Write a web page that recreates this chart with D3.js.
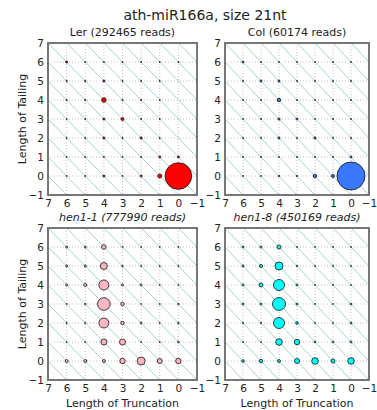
<!DOCTYPE html>
<html>
<head>
<meta charset="utf-8">
<script src="https://cdn.jsdelivr.net/npm/d3@7"></script>
<style>
  body { margin: 0; background: #fff; }
  text { font-family: "DejaVu Sans", sans-serif; fill: #222; }
  .tick text { font-size: 10.5px; }
</style>
</head>
<body>
<div id="chart-container"></div>
<script>
// step 0 the data: percent of reads, rows = tailing 7..0, cols = truncation 7..0
const tailing = [7, 6, 5, 4, 3, 2, 1, 0];
const truncation = [7, 6, 5, 4, 3, 2, 1, 0];
const tickValues = [7, 6, 5, 4, 3, 2, 1, 0, -1];

const ler = [
    [0.2, 0, 0, 0, 0, 0, 0, 0],
    [0, 0.5, 0.15, 0.15, 0.15, 0.15, 0.15, 0.15],
    [0, 0.2, 0.2, 0.5, 0.15, 0.15, 0.15, 0],
    [0, 0.2, 0.2, 2.5, 0.2, 0.2, 0.15, 0],
    [0, 0.15, 0.15, 0.5, 1.1, 0.15, 0.15, 0],
    [0, 0.15, 0.15, 0.5, 0.15, 0.6, 0.15, 0],
    [0, 0.15, 0.15, 0.15, 0.15, 0.15, 0.5, 0.5],
    [0, 0.15, 0.15, 0.5, 0.15, 0.5, 1.9, 84]
];
const col = [
    [0.2, 0, 0, 0, 0, 0, 0, 0],
    [0, 0.5, 0.15, 0.15, 0.15, 0.15, 0.15, 0.15],
    [0, 0.15, 0.5, 0.5, 0.15, 0.15, 0.15, 0.15],
    [0, 0.15, 0.15, 1.4, 0.15, 0.15, 0.15, 0.15],
    [0, 0.15, 0.15, 0.6, 0.5, 0.15, 0.15, 0.15],
    [0, 0.15, 0.15, 0.5, 0.15, 0.6, 0.15, 0.15],
    [0, 0.15, 0.15, 0.15, 0.15, 0.15, 0.15, 0.5],
    [0, 0.15, 0.15, 0.3, 0.3, 1.4, 1.1, 93]
];
const hen11 = [
    [0, 0, 0, 0, 0, 0, 0, 0],
    [0, 0.5, 0.5, 2.5, 0.15, 0.15, 0.15, 0.15],
    [0, 0.5, 0.6, 5.8, 0.3, 0.15, 0.15, 0.15],
    [0, 0.5, 1.1, 11.9, 0.5, 0.5, 0.15, 0.15],
    [0, 0.2, 0.3, 18.9, 1.4, 0.15, 0.15, 0.3],
    [0, 0.2, 0.2, 11.9, 1.4, 0.4, 0.15, 0.3],
    [0, 0.15, 0.15, 4.3, 4.3, 0.15, 0.15, 0.4],
    [0, 1.07, 1.07, 1.07, 3.5, 7.6, 3.0, 3.5]
];
const hen18 = [
    [0, 0, 0, 0, 0, 0, 0, 0],
    [0, 0.5, 0.5, 1.9, 0.15, 0.15, 0.15, 0.15],
    [0, 0.5, 1.07, 7.6, 0.2, 0.15, 0.15, 0.15],
    [0, 0.5, 1.9, 14.4, 0.5, 0.15, 0.15, 0.15],
    [0, 0.5, 0.5, 20, 0.5, 0.15, 0.15, 0.4],
    [0, 0.2, 0.2, 14.4, 0.8, 0.15, 0.15, 0.4],
    [0, 0.15, 0.15, 5.2, 3.5, 0.4, 0.4, 0.5],
    [0, 0.8, 1.37, 1.07, 3.0, 5.2, 1.9, 5.2]
];

const panelNames = ["Ler (292465 reads)", "Col (60174 reads)", "hen1-1 (777990 reads)", "hen1-8 (450169 reads)"];
const panelColors = ["#ff0000", "#3a78ff", "#ffb6c1", "#00ffff"];
const panelData = [ler, col, hen11, hen18];

// step 1 svg and layout
const W = 377, H = 410;
const ph = 152;
const widths = [149, 144, 149, 144];
const origins = [[48, 43], [225, 43], [48, 228], [225, 228]];

const svg = d3.select("#chart-container")
    .append("svg")
    .attr("width", W)
    .attr("height", H);

svg.append("text")
    .attr("x", 205)
    .attr("y", 20)
    .attr("text-anchor", "middle")
    .style("font-size", "14px")
    .text("ath-miR166a, size 21nt");

const r = d3.scaleSqrt().domain([0, 100]).range([0, 14.5]);
const y = d3.scaleLinear().domain([-1, 7]).range([ph, 0]);

panelData.forEach(function (mat, p) {
    const pw = widths[p];
    // step 2 scales for this panel
    const x = d3.scaleLinear().domain([7, -1]).range([0, pw]);

    const g = svg.append("g")
        .attr("transform", "translate(" + origins[p][0] + "," + origins[p][1] + ")");

    g.append("clipPath").attr("id", "clip" + p)
        .append("rect").attr("width", pw).attr("height", ph);

    // grid
    const grid = g.append("g").attr("clip-path", "url(#clip" + p + ")");
    grid.selectAll(".vgrid")
        .data(tickValues)
        .enter()
        .append("line")
        .attr("x1", d => x(d)).attr("x2", d => x(d))
        .attr("y1", 0).attr("y2", ph)
        .attr("stroke", "#b0b0b0")
        .attr("stroke-width", 0.8)
        .attr("stroke-dasharray", "1,2");
    grid.selectAll(".hgrid")
        .data(tickValues)
        .enter()
        .append("line")
        .attr("y1", d => y(d)).attr("y2", d => y(d))
        .attr("x1", 0).attr("x2", pw)
        .attr("stroke", "#b0b0b0")
        .attr("stroke-width", 0.8)
        .attr("stroke-dasharray", "1,2");

    // diagonal lines: truncation - tailing = k
    grid.selectAll(".diag")
        .data(d3.range(-9, 10))
        .enter()
        .append("line")
        .attr("x1", k => x(k - 2))
        .attr("y1", k => y(-2))
        .attr("x2", k => x(k + 8))
        .attr("y2", k => y(8))
        .attr("stroke", "#a3d3cb")
        .attr("stroke-width", 1);

    // dots
    const pts = [];
    mat.forEach(function (row, i) {
        row.forEach(function (v, j) {
            if (v > 0) pts.push({ tail: tailing[i], trunc: truncation[j], v: v });
        });
    });
    pts.sort((a, b) => a.v - b.v);

    g.selectAll(".dot")
        .data(pts)
        .enter()
        .append("circle")
        .attr("cx", d => x(d.trunc))
        .attr("cy", d => y(d.tail))
        .attr("r", d => r(d.v))
        .attr("fill", panelColors[p])
        .attr("stroke", "#111")
        .attr("stroke-width", 0.8);

    // frame
    g.append("rect")
        .attr("width", pw)
        .attr("height", ph)
        .attr("fill", "none")
        .attr("stroke", "#777")
        .attr("stroke-width", 2);

    // axes
    const xAxis = d3.axisBottom(x).tickValues(tickValues).tickSize(0).tickPadding(5)
        .tickFormat(d => d < 0 ? "\u2212" + Math.abs(d) : d);
    const yAxis = d3.axisLeft(y).tickValues(tickValues).tickSize(0).tickPadding(4)
        .tickFormat(d => d < 0 ? "\u2212" + Math.abs(d) : d);

    g.append("g")
        .attr("class", "x axis")
        .attr("transform", "translate(0," + ph + ")")
        .call(xAxis)
        .call(a => a.select(".domain").remove());
    g.append("g")
        .attr("class", "y axis")
        .call(yAxis)
        .call(a => a.select(".domain").remove());

    // panel title
    g.append("text")
        .attr("x", pw / 2)
        .attr("y", -7)
        .attr("text-anchor", "middle")
        .style("font-size", "11px")
        .style("font-style", p >= 2 ? "italic" : "normal")
        .text(panelNames[p]);

    if (p % 2 === 0) {
        g.append("text")
            .attr("transform", "translate(-22," + (ph / 2) + ") rotate(-90)")
            .attr("text-anchor", "middle")
            .style("font-size", "11px")
            .text("Length of Tailing");
    }
    if (p >= 2) {
        g.append("text")
            .attr("x", pw / 2)
            .attr("y", ph + 27)
            .attr("text-anchor", "middle")
            .style("font-size", "11px")
            .text("Length of Truncation");
    }
});
</script>
</body>
</html>
